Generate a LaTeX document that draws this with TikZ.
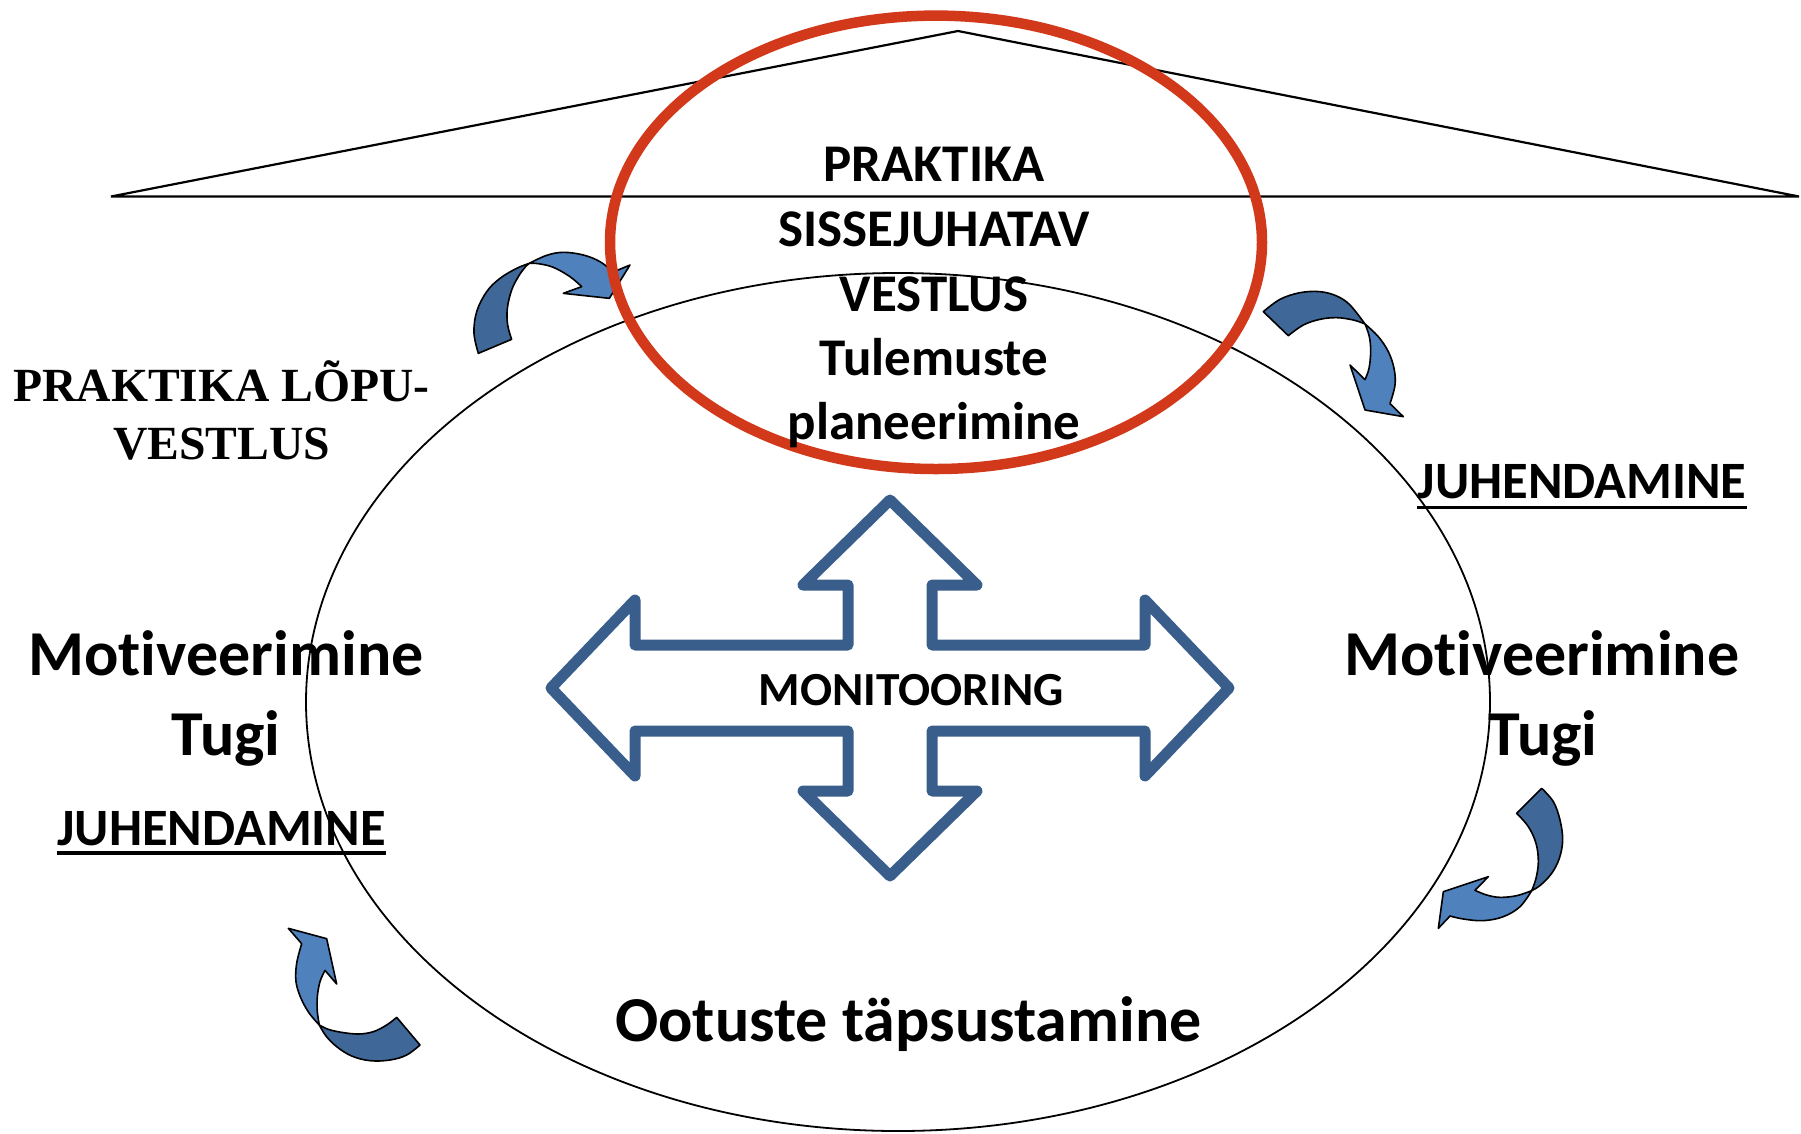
\documentclass[tikz,border=0pt]{standalone}
\usepackage{fontspec}
\newfontfamily\carl{Carlito}[Ligatures={NoCommon}]
\newfontfamily\tms{Liberation Serif}
\definecolor{crossblue}{HTML}{3A5E8C}
\definecolor{arrlight}{HTML}{4F81BD}
\definecolor{arrdark}{HTML}{3F6797}
\definecolor{ringred}{HTML}{D2391B}
\begin{document}
\begin{tikzpicture}[x=1pt,y=-1pt,
  lbl/.style={inner sep=0pt, anchor=base, text=black},
  bigtxt/.style={lbl, font=\carl\bfseries\fontsize{53}{63}\selectfont},
  hugetxt/.style={lbl, font=\carl\bfseries\fontsize{64}{76}\selectfont},
  juhtxt/.style={lbl, font=\carl\bfseries\fontsize{52.5}{60}\selectfont},
  montxt/.style={lbl, font=\carl\bfseries\fontsize{47.5}{57}\selectfont},
  serftxt/.style={lbl, font=\tms\bfseries\fontsize{47.6}{57}\selectfont},
  darkpart/.style={fill=arrdark, draw=black, line width=1.6pt, line join=round},
  lightpart/.style={fill=arrlight, draw=black, line width=1.6pt, line join=round},
  uline/.style={line width=3.3pt, black}]
\fill[white] (0,0) rectangle (1801,1133);
\useasboundingbox (0,0) rectangle (1801,1133);

% triangle
\draw[line width=2.2pt, line join=miter] (111,196.5) -- (958,31) -- (1799,196.5) -- cycle;

% big ellipse
\draw[line width=1.8pt] (898,702) ellipse [x radius=592, y radius=429];

% cross arrow
\begin{scope}[shift={(890,688)}]
\draw[crossblue, line width=11pt, line join=round]
 (0,-188) -- (87,-103) -- (42,-103) -- (42,-43) -- (255,-43) -- (255,-88) -- (339,0)
 -- (255,88) -- (255,43) -- (42,43) -- (42,103) -- (87,103) -- (0,188)
 -- (-87,103) -- (-42,103) -- (-42,43) -- (-255,43) -- (-255,88) -- (-339,0)
 -- (-255,-88) -- (-255,-43) -- (-42,-43) -- (-42,-103) -- (-87,-103) -- cycle;
\end{scope}

% curved arrow 1 (upper left)
\begin{scope}[shift={(450,230)}, scale=0.33333]
\path[darkpart] (85,370) -- (185,328)
  -- plot[smooth, tension=0.6] coordinates {(185,328) (173,285) (172,235) (185,180) (205,140) (225,112) (238,100)}
  -- plot[smooth, tension=0.6] coordinates {(238,100) (200,115) (150,145) (110,185) (80,245) (72,310) (85,370)} -- cycle;
\path[lightpart] (238,100)
  -- plot[smooth, tension=0.6] coordinates {(238,100) (290,76) (340,67) (400,75) (450,95) (490,126)}
  -- (540,105) -- (478,205) -- (340,190) -- (395,170)
  -- plot[smooth, tension=0.6] coordinates {(395,170) (360,140) (310,112) (265,101) (238,100)} -- cycle;
\end{scope}

% curved arrow 2 (upper right)
\begin{scope}[shift={(1250,270)}, scale=0.33333]
\path[darkpart] (40,125) -- (115,197)
  -- plot[smooth, tension=0.6] coordinates {(115,197) (160,165) (210,148) (260,143) (310,150) (345,162)}
  -- plot[smooth, tension=0.6] coordinates {(345,162) (300,105) (260,78) (210,65) (150,68) (90,88) (40,125)} -- cycle;
\path[lightpart] (345,162)
  -- plot[smooth, tension=0.6] coordinates {(345,162) (385,200) (415,245) (432,295) (435,345) (420,401)}
  -- (460,440) -- (345,420) -- (300,285) -- (345,329)
  -- plot[smooth, tension=0.6] coordinates {(345,329) (357,295) (362,245) (358,200) (345,162)} -- cycle;
\end{scope}

% curved arrow 3 (lower right)
\begin{scope}[shift={(1420,770)}, scale=0.33333]
\path[darkpart] (365,55) -- (290,130)
  -- plot[smooth, tension=0.6] coordinates {(290,130) (325,170) (348,220) (355,275) (348,325) (335,362)}
  -- plot[smooth, tension=0.6] coordinates {(335,362) (362,345) (395,310) (418,265) (428,210) (420,150) (400,95) (365,55)} -- cycle;
\path[lightpart] (335,362)
  -- plot[smooth, tension=0.6] coordinates {(335,362) (300,410) (250,440) (190,452) (130,447) (90,438)}
  -- (55,475) -- (70,365) -- (205,320) -- (165,361)
  -- plot[smooth, tension=0.6] coordinates {(165,361) (200,375) (240,382) (290,377) (335,362)} -- cycle;
\end{scope}

% curved arrow 4 (lower left)
\begin{scope}[shift={(270,910)}, scale=0.33333]
\path[darkpart] (380,322) -- (450,405)
  -- plot[smooth, tension=0.6] coordinates {(450,405) (410,435) (360,450) (300,452) (245,438) (200,410) (168,378) (148,345)}
  -- plot[smooth, tension=0.6] coordinates {(148,345) (175,358) (215,367) (265,372) (310,365) (350,345) (380,322)} -- cycle;
\path[lightpart] (148,345)
  -- plot[smooth, tension=0.6] coordinates {(148,345) (118,310) (93,265) (78,215) (80,160) (95,101)}
  -- (55,55) -- (170,86) -- (200,222) -- (165,181)
  -- plot[smooth, tension=0.6] coordinates {(165,181) (150,215) (142,260) (142,305) (148,345)} -- cycle;
\end{scope}

% red ring
\draw[ringred, line width=10.5pt] (936,242.3) ellipse [x radius=326, y radius=226.7];

% texts
\node[bigtxt] (t1) at (934,181.7) {PRAKTIKA};
\node[bigtxt] (t2) at (934,246.5) {SISSEJUHATAV};
\node[bigtxt] (t3) at (934,311) {VESTLUS};
\node[bigtxt] (t4) at (934,375.5) {Tulemuste};
\node[bigtxt] (t5) at (934,439.5) {planeerimine};

\node[serftxt] (lp1) at (221.5,401) {PRAKTIKA LÕPU-};
\node[serftxt] (lp2) at (221.5,459.5) {VESTLUS};

\node[hugetxt] (ml) at (226,675) {Motiveerimine};
\node[hugetxt] (tl) at (226,755) {Tugi};
\node[juhtxt] (jl) at (221.7,845) {JUHENDAMINE};
\draw[uline] ([yshift=-8pt]jl.base west) -- ([yshift=-8pt]jl.base east);

\node[juhtxt] (jr) at (1582,498.5) {JUHENDAMINE};
\draw[uline] ([yshift=-9pt]jr.base west) -- ([yshift=-9pt]jr.base east);
\node[hugetxt] (mr) at (1541.7,675) {Motiveerimine};
\node[hugetxt] (tr) at (1543,755) {Tugi};

\node[hugetxt] (oo) at (908.4,1041.7) {Ootuste täpsustamine};
\node[montxt] (mon) at (911,705) {MONITOORING};
\end{tikzpicture}
\end{document}
